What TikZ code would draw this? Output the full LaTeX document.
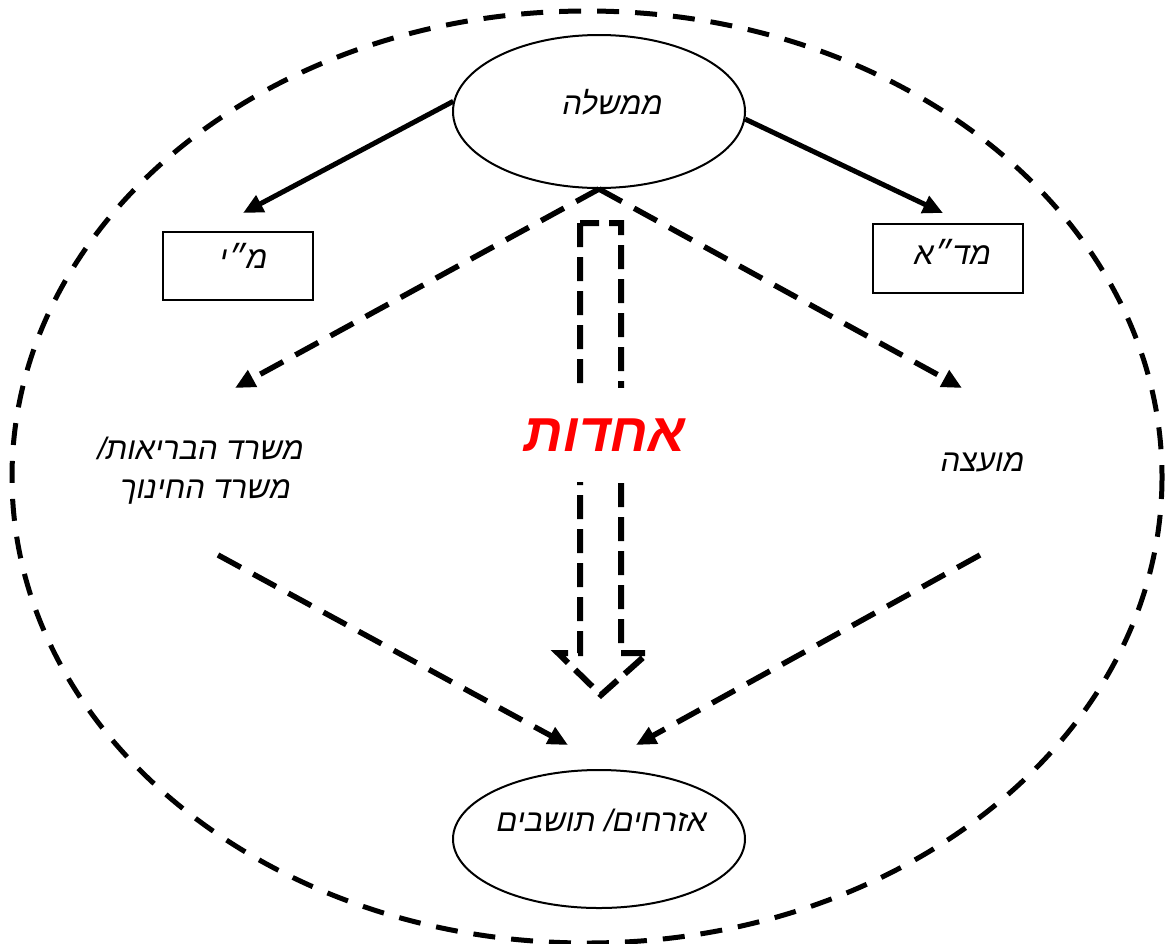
\documentclass[tikz,border=0pt]{standalone}
\usepackage{fontspec}
\TeXXeTstate=1
\newfontfamily\heb[Script=Hebrew,FakeSlant=0.2]{Liberation Sans}
\usetikzlibrary{shapes.geometric,arrows.meta}
\begin{document}
\begin{tikzpicture}[x=1pt,y=-1pt,
  htext/.style={font=\heb\fontsize{31}{44}\selectfont, inner sep=0pt, align=center},
  oval/.style={ellipse, draw, line width=2pt, inner sep=0pt},
  boxnode/.style={rectangle, draw, line width=2pt, inner sep=0pt},
  tip/.style={-{Triangle[length=20pt,width=18pt]}},
  solidarrow/.style={tip, line width=5pt},
  dasharrow/.style={tip, line width=5.5pt, dash pattern=on 26pt off 14pt},
  outer/.style={draw, line width=5pt, dash pattern=on 22pt off 16pt},
  hollow/.style={draw, line width=6pt, dash pattern=on 24pt off 10pt, line join=miter}
]
\useasboundingbox (0,0) rectangle (1166,943);
\fill[white] (0,0) rectangle (1166,943);

% big dashed ellipse
\draw[outer] (587,477) ellipse [x radius=575, y radius=466];

% nodes
\node[oval, minimum width=292pt, minimum height=153pt] (gov) at (599,111.5) {};
\node[htext] (govt) at (611,102) {\beginR ממשלה\endR};

\node[boxnode, minimum width=150pt, minimum height=68pt] (police) at (238,266) {};
\node[htext] (policet) at (242,256) {\beginR מ״י\endR};

\node[boxnode, minimum width=150pt, minimum height=69pt] (mda) at (948,258.5) {};
\node[htext] (mdat) at (951,252) {\beginR מד״א\endR};

\node[htext] (min1) at (199,448) {\beginR משרד הבריאות/\endR};
\node[htext] (min2) at (204,492) {\beginR משרד החינוך\endR};

\node[htext] (council) at (981,462) {\beginR מועצה\endR};

\node[oval, minimum width=292pt, minimum height=138pt] (cit) at (599,839) {};
\node[htext] (citt) at (600,820) {\beginR אזרחים/ תושבים\endR};

% coordinates for arrow ends
\coordinate (lt) at (243,213);
\coordinate (rt) at (943,213);
\coordinate (ld) at (235,388);
\coordinate (rd) at (962,388);
\coordinate (ls) at (218,555);
\coordinate (rs) at (980,555);
\coordinate (le) at (568,745);
\coordinate (re) at (636,745);

% solid arrows
\draw[solidarrow] (gov.176) -- (lt);
\draw[solidarrow] (gov.-3) -- (rt);

% dashed arrows
\draw[dasharrow] (gov.south) -- (ld);
\draw[dasharrow] (gov.south) -- (rd);
\draw[dasharrow] (ls) -- (le);
\draw[dasharrow] (rs) -- (re);

% hollow dashed arrow
\draw[hollow] (580,223) -- (580,653) -- (558,653) -- (601,695) -- (648,653) -- (621,653) -- (621,223) -- cycle;

% unity label
\node[font=\heb\bfseries\fontsize{54}{58}\selectfont, text=red, fill=white, inner sep=0pt,
      minimum width=80pt, minimum height=94pt] (unity) at (602,435) {\beginR אחדות\endR};
\end{tikzpicture}
\end{document}
